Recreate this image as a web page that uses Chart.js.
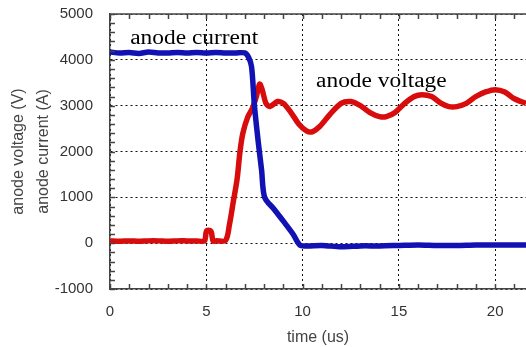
<!DOCTYPE html>
<html>
<head>
<meta charset="utf-8">
<script src="https://cdn.jsdelivr.net/npm/chart.js@4"></script>
<style>
  html, body { margin: 0; padding: 0; background: #fff; }
  #wrap { width: 526px; height: 347px; }
</style>
</head>
<body>
<div id="wrap"><canvas id="chart" width="526" height="347"></canvas></div>
<script>
// values
const currentTime = [0, 0.5, 1, 1.5, 2, 2.5, 3, 3.5, 4, 4.5, 5, 5.5, 6, 6.5, 7.0, 7.2, 7.35, 7.5, 7.7, 7.87, 8.03, 8.5, 9.0, 9.5, 9.85, 10.2, 11, 12, 13, 14, 15, 16, 17, 18, 19, 20, 21, 21.6];
const currentValues = [4170, 4150, 4160, 4140, 4170, 4150, 4150, 4160, 4150, 4160, 4150, 4160, 4150, 4150, 4150, 4050, 3850, 3000, 2200, 1600, 1000, 750, 480, 200, -40, -60, -50, -80, -60, -60, -50, -40, -50, -50, -40, -40, -40, -40];

const voltageTime = [0, 0.5, 1, 1.5, 2, 2.5, 3, 3.5, 4, 4.5, 4.9, 5.0, 5.1, 5.25, 5.35, 5.5, 6.0, 6.2, 6.4, 6.6, 6.75, 6.9, 7.15, 7.4, 7.6, 7.77, 7.9, 8.1, 8.3, 8.7, 9.0, 9.4, 9.8, 10.2, 10.5, 10.9, 11.4, 12.0, 12.5, 13.0, 13.5, 14.0, 14.35, 14.8, 15.3, 15.8, 16.2, 16.7, 17.2, 17.6, 18.0, 18.5, 19.0, 19.5, 20.0, 20.5, 21.0, 21.6];
const voltageValues = [50, 40, 50, 40, 50, 50, 40, 50, 50, 50, 50, 250, 280, 250, 50, 50, 60, 400, 900, 1400, 2000, 2400, 2750, 2950, 3200, 3470, 3350, 3050, 2980, 3090, 3050, 2850, 2600, 2450, 2430, 2550, 2800, 3050, 3090, 3000, 2850, 2760, 2760, 2850, 3050, 3200, 3240, 3200, 3050, 2980, 2980, 3050, 3200, 3300, 3350, 3300, 3150, 3050];

const xTicks = [0, 5, 10, 15, 20];
const yTicks = [-1000, 0, 1000, 2000, 3000, 4000, 5000];

const toPoints = (xs, ys) => xs.map((x, i) => ({ x: x, y: ys[i] }));

// frame on top + inward minor ticks + curve labels
const scopeDecor = {
    id: 'scopeDecor',
    afterDraw(chart) {
        const ctx = chart.ctx;
        const a = chart.chartArea;
        const xs = chart.scales.x;
        const ys = chart.scales.y;
        ctx.save();
        ctx.strokeStyle = '#444';
        ctx.lineWidth = 1.5;
        ctx.beginPath();
        ctx.moveTo(a.left, a.top);
        ctx.lineTo(a.right, a.top);
        for (let t = 0; t <= 21; t++) {
            const px = Math.round(xs.getPixelForValue(t)) + 0.5;
            ctx.moveTo(px, a.bottom);
            ctx.lineTo(px, a.bottom - 5);
            ctx.moveTo(px, a.top);
            ctx.lineTo(px, a.top + 5);
        }
        for (let v = -1000; v <= 5000; v += 200) {
            const py = Math.round(ys.getPixelForValue(v)) + 0.5;
            ctx.moveTo(a.left, py);
            ctx.lineTo(a.left + 5, py);
        }
        ctx.stroke();

        // scope labels, drawn slightly wide like the original scan
        ctx.fillStyle = '#000';
        ctx.font = '20px "Liberation Serif", "Times New Roman", serif';
        ctx.textBaseline = 'alphabetic';
        const label = (txt, xv, yv) => {
            ctx.save();
            ctx.translate(xs.getPixelForValue(xv), ys.getPixelForValue(yv));
            ctx.scale(1.17, 1);
            ctx.fillText(txt, 0, 0);
            ctx.restore();
        };
        label('anode current', 1.05, 4350);
        label('anode voltage', 10.7, 3400);
        ctx.restore();
    }
};

const tickFont = { family: '"Liberation Sans", Arial, sans-serif', size: 15 };
const titleFont = { family: '"Liberation Sans", Arial, sans-serif', size: 16 };

new Chart(document.getElementById('chart').getContext('2d'), {
    type: 'line',
    data: {
        datasets: [{
            label: 'anode current',
            data: toPoints(currentTime, currentValues),
            borderColor: '#1212b4',
            borderWidth: 5.5,
            pointRadius: 0,
            tension: 0.3,
            order: 1
        }, {
            label: 'anode voltage',
            data: toPoints(voltageTime, voltageValues),
            borderColor: '#d80c0c',
            borderWidth: 5.5,
            pointRadius: 0,
            tension: 0.3,
            order: 2
        }]
    },
    options: {
        responsive: false,
        animation: false,
        layout: { padding: { top: 14, right: 0, left: 6, bottom: 0 } },
        plugins: {
            legend: { display: false },
            tooltip: { enabled: false }
        },
        scales: {
            x: {
                type: 'linear',
                min: 0,
                max: 21.6,
                afterBuildTicks: (s) => { s.ticks = xTicks.map(v => ({ value: v })); },
                afterFit: (s) => {
                    s.height = 58;
                    s.paddingLeft = 0;
                    s.paddingRight = 0;
                },
                border: { display: true, color: '#444', width: 1.5, dash: [2, 3] },
                grid: { color: '#111', lineWidth: 1, drawTicks: false },
                ticks: {
                    color: '#333',
                    padding: 14,
                    font: tickFont,
                    callback: (v) => String(v)
                },
                title: {
                    display: true,
                    text: 'time (us)',
                    color: '#444',
                    padding: { top: 4, bottom: 0 },
                    font: titleFont
                }
            },
            y: {
                type: 'linear',
                min: -1000,
                max: 5000,
                afterBuildTicks: (s) => { s.ticks = yTicks.map(v => ({ value: v })); },
                afterFit: (s) => {
                    s.width = 104;
                    s.paddingTop = 0;
                    s.paddingBottom = 0;
                },
                border: { display: true, color: '#444', width: 1.5, dash: [2, 3] },
                grid: { color: '#111', lineWidth: 1, drawTicks: false },
                ticks: {
                    color: '#333',
                    padding: 17,
                    font: tickFont,
                    callback: (v) => String(v)
                },
                title: {
                    display: true,
                    text: ['anode voltage (V)', 'anode current (A)'],
                    color: '#444',
                    padding: { top: 0, bottom: 4 },
                    font: Object.assign({ lineHeight: 1.55 }, titleFont)
                }
            }
        }
    },
    plugins: [scopeDecor]
});
</script>
</body>
</html>
